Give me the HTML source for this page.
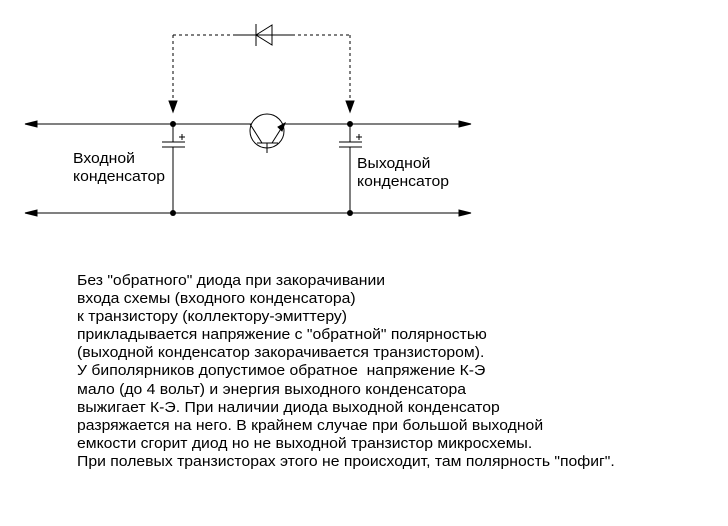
<html><body style="margin:0;width:728px;height:526px;background:#fff;overflow:hidden;position:relative;font-family:'Liberation Sans',Arial,sans-serif">
<svg width="728" height="526" style="position:absolute;left:0;top:0" stroke="#000" stroke-width="1" fill="none">
<line x1="28" y1="124" x2="468" y2="124"/>
<line x1="28" y1="213" x2="468" y2="213"/>
<polygon points="25,124 37,121 37,127" fill="#000"/>
<polygon points="25,213 37,210 37,216" fill="#000"/>
<polygon points="471,124 459,121 459,127" fill="#000"/>
<polygon points="471,213 459,210 459,216" fill="#000"/>
<g stroke-dasharray="3,3">
<line x1="173" y1="35" x2="173" y2="102"/>
<line x1="350" y1="35" x2="350" y2="102"/>
<line x1="173" y1="35" x2="235" y2="35"/>
<line x1="292" y1="35" x2="350" y2="35"/>
</g>
<polygon points="173,112 169,101 177,101" fill="#000"/>
<polygon points="350,112 346,101 354,101" fill="#000"/>
<line x1="235" y1="35" x2="292" y2="35"/>
<polygon points="256,35 272,25 272,45"/>
<line x1="256" y1="24" x2="256" y2="46"/>
<circle cx="173" cy="124" r="3" fill="#000" stroke="none"/>
<circle cx="350" cy="124" r="3" fill="#000" stroke="none"/>
<circle cx="173" cy="213" r="3" fill="#000" stroke="none"/>
<circle cx="350" cy="213" r="3" fill="#000" stroke="none"/>
<line x1="173" y1="124" x2="173" y2="142"/>
<line x1="173" y1="147" x2="173" y2="213"/>
<line x1="162" y1="142" x2="185" y2="142"/>
<line x1="162" y1="147" x2="185" y2="147"/>
<line x1="350" y1="124" x2="350" y2="142"/>
<line x1="350" y1="147" x2="350" y2="213"/>
<line x1="339" y1="142" x2="362" y2="142"/>
<line x1="339" y1="147" x2="362" y2="147"/>
<line x1="179" y1="137" x2="185" y2="137"/><line x1="182" y1="134" x2="182" y2="140"/>
<line x1="356" y1="137" x2="362" y2="137"/><line x1="359" y1="134" x2="359" y2="140"/>
<circle cx="267" cy="131" r="17" fill="#fff"/>
<line x1="250" y1="124" x2="262" y2="143"/>
<line x1="272" y1="143" x2="284" y2="124"/>
<polygon points="285,123 278,127 282,131" fill="#000"/>
<line x1="257" y1="143" x2="278" y2="143"/>
<line x1="267" y1="143" x2="267" y2="153"/>
</svg>
<div style="position:absolute;left:73px;top:150px;font-size:15px;line-height:18px;transform:scaleX(1.05);transform-origin:0 0">Входной<br>конденсатор</div>
<div style="position:absolute;left:357px;top:155px;font-size:15px;line-height:18px;transform:scaleX(1.05);transform-origin:0 0">Выходной<br>конденсатор</div>
<div style="position:absolute;left:77px;top:272px;font-size:15px;line-height:18.1px;white-space:pre;transform:scaleX(1.05);transform-origin:0 0">Без "обратного" диода при закорачивании
входа схемы (входного конденсатора)
к транзистору (коллектору-эмиттеру)
прикладывается напряжение с "обратной" полярностью
(выходной конденсатор закорачивается транзистором).
У биполярников допустимое обратное  напряжение К-Э
мало (до 4 вольт) и энергия выходного конденсатора
выжигает К-Э. При наличии диода выходной конденсатор
разряжается на него. В крайнем случае при большой выходной
емкости сгорит диод но не выходной транзистор микросхемы.
При полевых транзисторах этого не происходит, там полярность "пофиг".</div>
</body></html>
